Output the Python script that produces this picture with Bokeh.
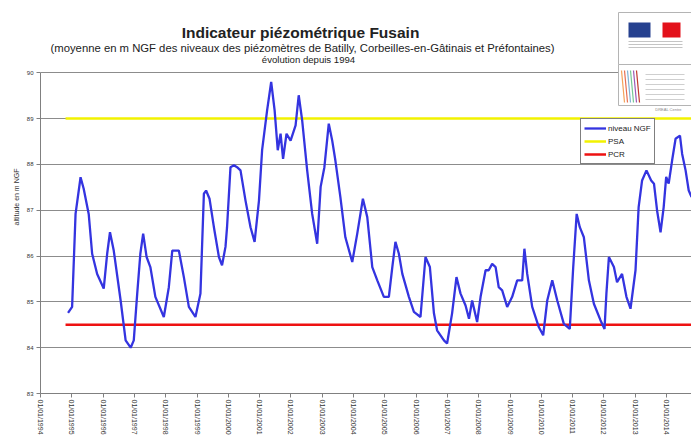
from bokeh.plotting import figure
from bokeh.models import Range1d, FixedTicker, Legend, LegendItem, Label, ColumnDataSource
from bokeh.embed import file_html
from bokeh.resources import INLINE

# ---------------- data ----------------
annees = [
    1994.88, 1995.01, 1995.12, 1995.28, 1995.38, 1995.54, 1995.65, 1995.81,
    1996.02, 1996.13, 1996.22, 1996.34, 1996.56, 1996.72, 1996.88, 1996.98,
    1997.09, 1997.19, 1997.28, 1997.39, 1997.51, 1997.67, 1997.94,
    1998.10, 1998.21, 1998.42, 1998.58, 1998.74, 1998.95,
    1999.11, 1999.22, 1999.29, 1999.40, 1999.54, 1999.70, 1999.80, 1999.91, 1999.96,
    2000.07, 2000.18, 2000.28, 2000.39, 2000.55, 2000.71, 2000.84, 2000.98,
    2001.08, 2001.24, 2001.37, 2001.48, 2001.58, 2001.67, 2001.75, 2001.86, 2001.99,
    2002.15, 2002.25, 2002.36, 2002.52, 2002.68, 2002.84, 2002.95,
    2003.07, 2003.21, 2003.32, 2003.42, 2003.58, 2003.74, 2003.96,
    2004.12, 2004.30, 2004.44, 2004.60, 2004.76, 2004.97,
    2005.13, 2005.24, 2005.34, 2005.45, 2005.56, 2005.77, 2005.93,
    2006.14, 2006.30, 2006.44, 2006.57, 2006.67, 2006.89, 2006.99,
    2007.15, 2007.29, 2007.42, 2007.58, 2007.69, 2007.79, 2007.95,
    2008.06, 2008.22, 2008.32, 2008.43, 2008.54, 2008.64, 2008.75, 2008.91,
    2009.07, 2009.23, 2009.39, 2009.46, 2009.55, 2009.71, 2009.92,
    2010.06, 2010.19, 2010.35, 2010.51, 2010.72, 2010.91,
    2011.02, 2011.13, 2011.23, 2011.36, 2011.52, 2011.68, 2011.89,
    2012.02, 2012.08, 2012.16, 2012.32, 2012.42, 2012.58, 2012.72, 2012.85,
    2013.01, 2013.11, 2013.22, 2013.36, 2013.51, 2013.60, 2013.70, 2013.81, 2013.91, 2013.99,
    2014.07, 2014.18, 2014.29, 2014.43, 2014.50, 2014.61, 2014.71, 2014.80,
]
niveau_ngf = [
    84.76, 84.89, 86.92, 87.72, 87.47, 86.92, 86.05, 85.61,
    85.29, 86.05, 86.52, 86.12, 85.03, 84.16, 84.00, 84.16,
    85.18, 86.05, 86.49, 85.98, 85.76, 85.11, 84.67,
    85.32, 86.12, 86.12, 85.54, 84.89, 84.67,
    85.18, 87.36, 87.43, 87.25, 86.63, 85.98, 85.80, 86.20, 86.63,
    87.94, 87.98, 87.94, 87.87, 87.21, 86.63, 86.31, 87.21,
    88.31, 89.18, 89.80, 89.18, 88.31, 88.67, 88.12, 88.67, 88.52,
    88.85, 89.51, 88.96, 87.87, 86.92, 86.27, 87.51,
    87.94, 88.89, 88.52, 88.09, 87.29, 86.41, 85.87,
    86.49, 87.25, 86.85, 85.76, 85.47, 85.11,
    85.11, 85.76, 86.31, 86.05, 85.61, 85.11, 84.78,
    84.67, 85.98, 85.76, 84.75, 84.38, 84.16, 84.09,
    84.75, 85.54, 85.18, 84.92, 84.63, 85.03, 84.56,
    85.11, 85.69, 85.69, 85.83, 85.76, 85.32, 85.25, 84.89,
    85.11, 85.47, 85.47, 86.16, 85.61, 84.89, 84.45,
    84.27, 85.03, 85.47, 85.03, 84.52, 84.41,
    85.76, 86.92, 86.63, 86.41, 85.47, 84.96, 84.60,
    84.41, 85.18, 85.98, 85.76, 85.43, 85.61, 85.11, 84.85,
    85.69, 87.07, 87.65, 87.87, 87.65, 87.58, 86.99, 86.52, 87.07, 87.73,
    87.58, 88.09, 88.56, 88.63, 88.23, 87.87, 87.43, 87.29,
]
seuil_annees = [1994.8, 2015.0]
psa = [89.0, 89.0]
pcr = [84.5, 84.5]
x_ticks = list(range(1994, 2015))
x_tick_labels = ["01/01/%d" % a for a in x_ticks]
y_ticks = [83, 84, 85, 86, 87, 88, 89, 90]

titre = "Indicateur piézométrique Fusain"
sous_titre = "(moyenne en m NGF des niveaux des piézomètres de Batilly, Corbeilles-en-Gâtinais et Préfontaines)"
sous_titre2 = "évolution depuis 1994"

# ---------------- layout (canvas pixels) ----------------
W, H = 691, 441
FRAME_L, FRAME_B = 40, 393
PX_PER_YEAR = 31.3
Y90_PX = 72.3
PX_PER_M = (FRAME_B - Y90_PX) / 7.0
X0 = 1994.0
X_END = X0 + (W - FRAME_L) / PX_PER_YEAR
Y_TOP = 83.0 + FRAME_B / PX_PER_M


def cx(c):
    return X0 + (c - FRAME_L) / PX_PER_YEAR


def cy(c):
    return 83.0 + (FRAME_B - c) / PX_PER_M


FONT = "Liberation Sans"

p = figure(width=W, height=H, output_backend="svg", toolbar_location=None,
           x_range=Range1d(X0, X_END), y_range=Range1d(83.0, Y_TOP),
           min_border_left=FRAME_L, min_border_right=0, min_border_top=0,
           min_border_bottom=H - FRAME_B)
p.outline_line_color = None
p.background_fill_color = "white"
p.border_fill_color = "white"

# axes
p.xaxis.ticker = FixedTicker(ticks=x_ticks)
p.xaxis.major_label_overrides = {a: l for a, l in zip(x_ticks, x_tick_labels)}
p.xaxis.major_label_orientation = "vertical"
p.xaxis.major_label_text_font = FONT
p.xaxis.major_label_text_font_size = "7px"
p.xaxis.major_label_text_color = "#333333"
p.xaxis.major_label_standoff = 2
p.xaxis.major_tick_in = 0
p.xaxis.major_tick_out = 4
p.xaxis.minor_tick_line_color = None
p.xaxis.axis_line_color = "#808080"
p.xaxis.major_tick_line_color = "#808080"

p.yaxis.ticker = FixedTicker(ticks=y_ticks)
p.yaxis.bounds = (83, 90)
p.yaxis.major_label_text_font = FONT
p.yaxis.major_label_text_font_size = "6px"
p.yaxis.major_label_text_color = "#333333"
p.yaxis.major_label_standoff = 3
p.yaxis.major_tick_in = 0
p.yaxis.major_tick_out = 4
p.yaxis.minor_tick_line_color = None
p.yaxis.axis_line_color = "#808080"
p.yaxis.major_tick_line_color = "#808080"
p.yaxis.axis_label = "altitude en m NGF"
p.yaxis.axis_label_text_font = FONT
p.yaxis.axis_label_text_font_size = "7px"
p.yaxis.axis_label_text_font_style = "normal"
p.yaxis.axis_label_text_color = "#333333"
p.yaxis.axis_label_standoff = 4

p.xgrid.grid_line_color = None
p.ygrid.ticker = FixedTicker(ticks=y_ticks)
p.ygrid.grid_line_color = "#8c8c8c"
p.ygrid.grid_line_width = 1

# series
src = ColumnDataSource(dict(x=annees, y=niveau_ngf))
r_psa = p.line(seuil_annees, psa, line_color="#f2f200", line_width=2.5)
r_pcr = p.line(seuil_annees, pcr, line_color="#ee1111", line_width=2.5)
r_niv = p.line("x", "y", source=src, line_color="#3434e0", line_width=2.3)

# titles
p.add_layout(Label(x=cx(300), y=cy(32), text=titre, text_align="center", text_baseline="middle",
                   text_font=FONT, text_font_size="15.5px", text_font_style="bold", text_color="#222222"))
p.add_layout(Label(x=cx(302), y=cy(47), text=sous_titre, text_align="center", text_baseline="middle",
                   text_font=FONT, text_font_size="11.3px", text_color="#222222"))
p.add_layout(Label(x=cx(308), y=cy(59), text=sous_titre2, text_align="center", text_baseline="middle",
                   text_font=FONT, text_font_size="9.6px", text_color="#222222"))

# logo (decorative)
p.quad(left=[cx(618), cx(618)], right=[cx(710), cx(710)], top=[cy(12), cy(64)], bottom=[cy(64), cy(105)],
       fill_color="white", line_color="#b4b4b4", line_width=1)
p.quad(left=[cx(628)], right=[cx(650)], top=[cy(22)], bottom=[cy(37)], fill_color="#26418f", line_color=None)
p.quad(left=[cx(662)], right=[cx(680)], top=[cy(22)], bottom=[cy(37)], fill_color="#e3111a", line_color=None)
gl_y = [41, 44, 47]
p.segment(x0=[cx(628)] * 3, x1=[cx(682)] * 3, y0=[cy(v) for v in gl_y], y1=[cy(v) for v in gl_y],
          line_color="#c4c4c4", line_width=1)
cols = ["#f4a259", "#e76f51", "#7fb3d5", "#76c893", "#9b59b6", "#c0392b"]
vx = [621, 624, 627, 630, 633, 636]
p.segment(x0=[cx(v) for v in vx], x1=[cx(v + 3) for v in vx], y0=[cy(70)] * 6, y1=[cy(102)] * 6,
          line_color=cols, line_width=1.2)
tl_y = [74, 79, 84, 89, 94, 99]
p.segment(x0=[cx(645)] * 6, x1=[cx(684)] * 6, y0=[cy(v) for v in tl_y], y1=[cy(v) for v in tl_y],
          line_color="#cfcfcf", line_width=1.2)
p.add_layout(Label(x=cx(668), y=cy(109), text="DREAL Centre", text_align="center", text_baseline="middle",
                   text_font=FONT, text_font_size="4px", text_color="#888888"))

# legend
legend = Legend(items=[LegendItem(label="niveau NGF", renderers=[r_niv]),
                       LegendItem(label="PSA", renderers=[r_psa]),
                       LegendItem(label="PCR", renderers=[r_pcr])],
                location=(540, 229))
legend.label_text_font = FONT
legend.label_text_font_size = "8px"
legend.label_text_color = "#222222"
legend.label_height = 12
legend.label_standoff = 2
legend.glyph_width = 22
legend.glyph_height = 12
legend.spacing = 1
legend.padding = 3
legend.margin = 0
legend.border_line_color = "black"
legend.border_line_width = 1
legend.background_fill_color = "white"
legend.background_fill_alpha = 1.0
p.add_layout(legend)

open("out.html", "w").write(file_html(p, INLINE))
